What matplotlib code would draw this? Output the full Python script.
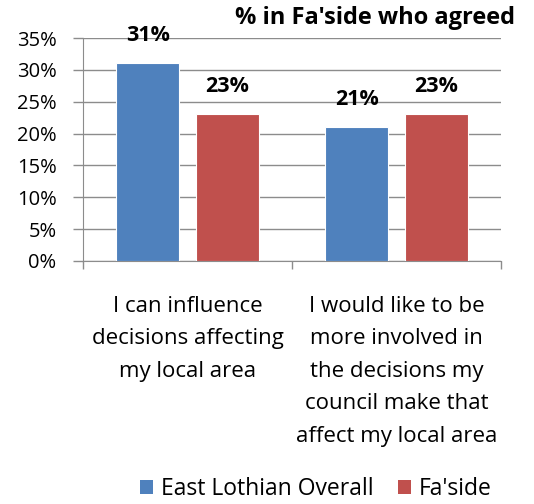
import matplotlib
matplotlib.use("Agg")
import matplotlib.pyplot as plt
from matplotlib.patches import Patch
from matplotlib.ticker import MultipleLocator, FuncFormatter, FixedLocator

plt.rcParams['font.family'] = ['Open Sans', 'DejaVu Sans']

categories = ["I can influence\ndecisions affecting\nmy local area",
              "I would like to be\nmore involved in\nthe decisions my\ncouncil make that\naffect my local area"]
series_names = ["East Lothian Overall", "Fa'side"]
east_lothian = [31, 21]
faside = [23, 23]
value_labels_el = ["31%", "21%"]
value_labels_fa = ["23%", "23%"]
title = "% in Fa'side who agreed"

blue = "#4F81BD"
red = "#C0504D"
grid_c = "#8C8C8C"

fig = plt.figure(figsize=(5.34, 5.04), dpi=100)
ax = fig.add_axes([83/534, 1-261/504, (501-83)/534, (261-38)/504])

x = [0, 1]
w = 0.30
off = 0.19
b1 = ax.bar([i - off for i in x], east_lothian, w, color=blue, edgecolor="white", linewidth=0.8, zorder=3)
b2 = ax.bar([i + off for i in x], faside, w, color=red, edgecolor="white", linewidth=0.8, zorder=3)

for bars, labs in ((b1, value_labels_el), (b2, value_labels_fa)):
    for r, lab in zip(bars, labs):
        ax.annotate(lab, (r.get_x() + r.get_width()/2, r.get_height()),
                    xytext=(0, 20), textcoords="offset points",
                    ha="center", va="center", fontsize=15.5, fontweight="bold", zorder=5)

ax.set_xlim(-0.5, 1.5)
ax.set_ylim(0, 35)
ax.yaxis.set_major_locator(MultipleLocator(5))
ax.yaxis.set_major_formatter(FuncFormatter(lambda v, p: f"{int(v)}%"))
ax.yaxis.grid(True, color=grid_c, linewidth=1, zorder=0)
ax.set_axisbelow(True)

ax.xaxis.set_major_locator(FixedLocator([-0.5, 0.5, 1.5]))
ax.xaxis.set_major_formatter(FuncFormatter(lambda v, p: ""))
ax.xaxis.set_minor_locator(FixedLocator(x))
ax.set_xticklabels(categories, minor=True)
ax.tick_params(axis="x", which="major", length=6, color=grid_c, width=1)
ax.tick_params(axis="x", which="minor", length=0, pad=25, labelsize=16)
ax.tick_params(axis="y", length=7, color=grid_c, width=1, labelsize=14.5, pad=12)
for lab in ax.get_xticklabels(minor=True):
    lab.set_linespacing(1.72)
    lab.set_va("top")

for s in ["top", "right"]:
    ax.spines[s].set_visible(False)
ax.spines["left"].set_color(grid_c)
ax.spines["bottom"].set_color(grid_c)

fig.text(515/534, 1-18/504, title, ha="right", va="center", fontsize=17, fontweight="bold")

handles = [Patch(facecolor=blue, edgecolor="none"), Patch(facecolor=red, edgecolor="none")]
fig.legend(handles, series_names, loc="center", bbox_to_anchor=(316/534, 1-489/504),
           ncol=2, frameon=False, fontsize=16.5, handlelength=0.55, handleheight=0.55,
           handletextpad=0.35, columnspacing=1.1)

fig.savefig("out.png", dpi=100)
